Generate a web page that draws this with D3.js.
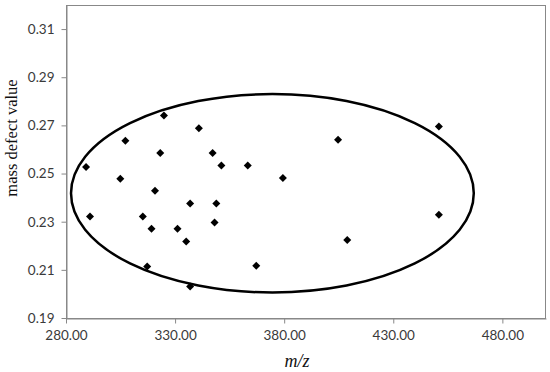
<!DOCTYPE html>
<html>
<head>
<meta charset="utf-8">
<script src="https://cdn.jsdelivr.net/npm/d3@7"></script>
<style>
  body { margin: 0; background: #fff; }
  svg { display: block; }
</style>
</head>
<body>
<svg id="chart" width="550" height="372"></svg>
<script>
"use strict";

// m/z values of the points
const mz = [289.2, 291.0, 304.9, 307.2, 317.2, 315.2, 319.2, 320.8, 323.2, 324.9,
	331.1, 335.1, 336.9, 336.9, 340.9, 347.2, 348.9, 348.1, 351.2, 363.3,
	367.2, 379.4, 404.7, 408.9, 450.9, 450.9];
// mass defect values, same order
const massDefect = [0.2527, 0.2322, 0.2478, 0.2636, 0.2114, 0.2322, 0.2271, 0.2429, 0.2585, 0.2741,
	0.2271, 0.2218, 0.2376, 0.2031, 0.2688, 0.2585, 0.2376, 0.2297, 0.2533, 0.2533,
	0.2117, 0.2481, 0.2640, 0.2224, 0.2695, 0.2329];

const xTicks = [280, 330, 380, 430, 480];
const yTicks = [0.19, 0.21, 0.23, 0.25, 0.27, 0.29, 0.31];

// ellipse drawn round the cluster: centre and radii in data units
const ellipseCenter = [374.6, 0.2418];
const ellipseRadii = [92.3, 0.0412];

(() => {
	let data = mz.map((m, i) => ({ mz: m, md: massDefect[i] }));

	const svg = d3.select("#chart");
	const left = 66, right = 546, top = 5, bottom = 318;

	const x = d3.scaleLinear().domain([280, 500]).range([left, right]);
	const y = d3.scaleLinear().domain([0.19, 0.32]).range([bottom, top]);

	// plot frame
	svg.append("rect")
		.attr("x", left + 0.5).attr("y", top + 0.5)
		.attr("width", right - left - 1).attr("height", bottom - top)
		.attr("fill", "none")
		.attr("stroke", "#888")
		.attr("stroke-width", 1);

	const xAxis = svg.append("g")
		.attr("transform", `translate(0,${bottom + 0.5})`)
		.call(d3.axisBottom(x).tickValues(xTicks).tickFormat(d3.format(".2f")).tickSize(5).tickSizeOuter(0).tickPadding(7));
	const yAxis = svg.append("g")
		.attr("transform", `translate(${left + 0.5},0)`)
		.call(d3.axisLeft(y).tickValues(yTicks).tickFormat(d3.format(".2f")).tickSize(5).tickSizeOuter(0).tickPadding(7));

	[xAxis, yAxis].forEach(g => {
		g.select(".domain").attr("stroke", "#888");
		g.selectAll(".tick line").attr("stroke", "#888");
		g.selectAll(".tick text")
			.attr("fill", "#3a3a3a")
			.style("font-family", "Lato, 'Open Sans', sans-serif")
			.style("font-size", "13.5px");
	});

	// the ellipse
	svg.append("ellipse")
		.attr("cx", x(ellipseCenter[0]))
		.attr("cy", y(ellipseCenter[1]))
		.attr("rx", x(ellipseCenter[0] + ellipseRadii[0]) - x(ellipseCenter[0]))
		.attr("ry", y(ellipseCenter[1]) - y(ellipseCenter[1] + ellipseRadii[1]))
		.attr("fill", "none")
		.attr("stroke", "#000")
		.attr("stroke-width", 2.5);

	// diamond markers
	svg.selectAll("path.pt")
		.data(data).enter()
		.append("path")
		.attr("class", "pt")
		.attr("d", d3.symbol(d3.symbolSquare, 32))
		.attr("transform", d => `translate(${x(d.mz)},${y(d.md)}) rotate(45)`)
		.attr("fill", "#000");

	// axis titles
	svg.append("text")
		.attr("transform", `translate(17,138) rotate(-90)`)
		.attr("text-anchor", "middle")
		.style("font-family", "'Liberation Serif', serif")
		.style("font-size", "16.5px")
		.attr("fill", "#111")
		.text("mass defect value");

	svg.append("text")
		.attr("x", 297)
		.attr("y", 367)
		.attr("text-anchor", "middle")
		.style("font-family", "'Liberation Serif', serif")
		.style("font-style", "italic")
		.style("font-size", "18px")
		.attr("fill", "#111")
		.text("m/z");
})();
</script>
</body>
</html>
